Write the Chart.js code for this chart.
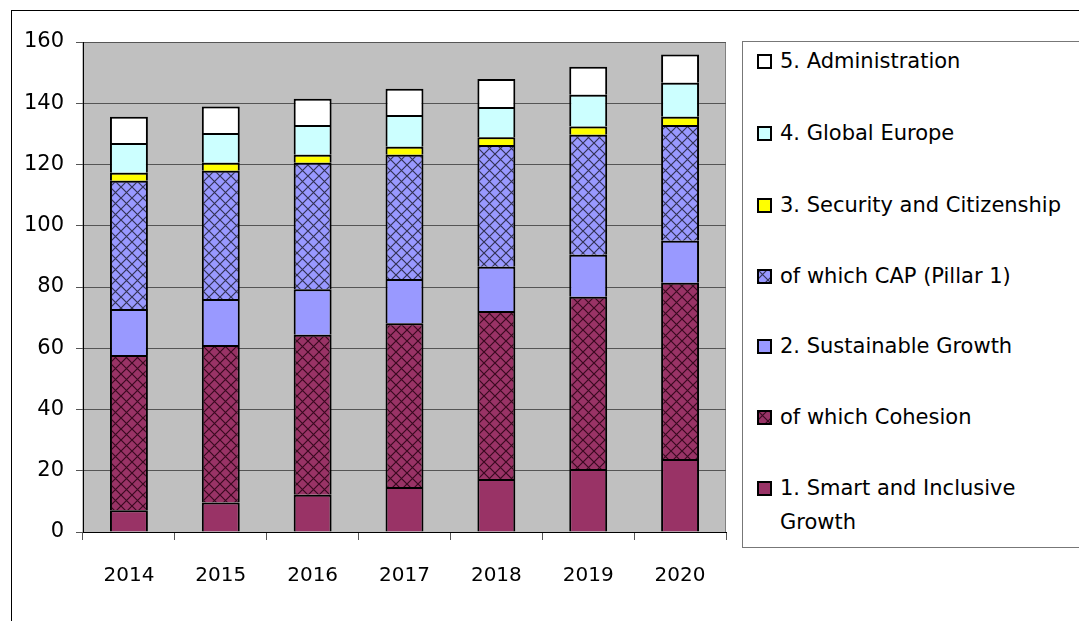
<!DOCTYPE html>
<html>
<head>
<meta charset="utf-8">
<script src="https://cdn.jsdelivr.net/npm/chart.js@4"></script>
<style>
  body { margin: 0; background: #fff; font-family: "DejaVu Sans", sans-serif; }
  #wrap { position: relative; width: 1079px; height: 621px; overflow: hidden; }
  #frame { position: absolute; left: 11px; top: 10px; width: 1200px; height: 800px; border: 1px solid #000; }
  #chartBox { position: absolute; left: 0; top: 0; width: 1079px; height: 621px; }
  #legend { position: absolute; left: 742px; top: 41px; width: 400px; height: 505px; border: 1px solid #777; background: #fff; }
  .item { position: absolute; left: 0; font-size: 21px; color: #000; line-height: 34px; }
  .item canvas { position: absolute; left: 14px; top: 10px; }
  .item span { position: absolute; left: 37px; top: 0; white-space: nowrap; }
</style>
</head>
<body>
<div id="wrap">
  <div id="frame"></div>
  <div id="chartBox"><canvas id="budget"></canvas></div>
  <div id="legend"></div>
</div>
<script>
const years = ['2014', '2015', '2016', '2017', '2018', '2019', '2020'];
const smart = [7.1, 9.6, 12.2, 14.7, 17.3, 20.6, 23.8];
const cohesion = [50.7, 51.5, 52.2, 53.5, 54.9, 56.2, 57.6];
const sustainable = [15.0, 15.0, 14.9, 14.4, 14.4, 13.7, 13.7];
const cap = [41.9, 41.9, 41.3, 40.6, 39.8, 39.2, 37.8];
const security = [2.6, 2.6, 2.6, 2.6, 2.5, 2.7, 2.7];
const globalEurope = [9.7, 9.7, 9.7, 10.4, 9.9, 10.4, 11.1];
const admin = [8.6, 8.6, 8.6, 8.5, 9.1, 9.1, 9.2];
const yTicks = [0, 20, 40, 60, 80, 100, 120, 140, 160];

// crosshatch fill like the spreadsheet pattern
function hatch(base, ink) {
  const c = document.createElement('canvas');
  c.width = 11; c.height = 11;
  const g = c.getContext('2d');
  g.fillStyle = base;
  g.fillRect(0, 0, 11, 11);
  g.strokeStyle = ink;
  g.lineWidth = 1.2;
  g.beginPath();
  g.moveTo(0, 0); g.lineTo(11, 11);
  g.moveTo(11, 0); g.lineTo(0, 11);
  g.stroke();
  return g.createPattern(c, 'repeat');
}

const series = [
  { label: '1. Smart and Inclusive Growth', data: smart, color: '#993366' },
  { label: 'of which Cohesion', data: cohesion, color: '#993366', ink: '#3a0a20' },
  { label: '2. Sustainable Growth', data: sustainable, color: '#9999FF' },
  { label: 'of which CAP (Pillar 1)', data: cap, color: '#9999FF', ink: '#333355' },
  { label: '3. Security and Citizenship', data: security, color: '#FFFF00' },
  { label: '4. Global Europe', data: globalEurope, color: '#CCFFFF' },
  { label: '5. Administration', data: admin, color: '#FFFFFF' }
];

const plotBg = {
  id: 'plotBg',
  beforeDraw(chart) {
    const a = chart.chartArea, ctx = chart.ctx;
    ctx.save();
    ctx.fillStyle = '#C0C0C0';
    ctx.fillRect(a.left, a.top, a.right - a.left, a.bottom - a.top);
    ctx.strokeStyle = '#808080';
    ctx.lineWidth = 1;
    ctx.strokeRect(a.left, a.top + 0.5, a.right - a.left - 0.5, a.bottom - a.top);
    ctx.restore();
  }
};

const ctx = document.getElementById('budget').getContext('2d');
new Chart(ctx, {
  type: 'bar',
  data: {
    labels: years,
    datasets: series.map(s => ({
      label: s.label,
      data: s.data,
      backgroundColor: s.ink ? hatch(s.color, s.ink) : s.color,
      borderColor: '#000',
      borderWidth: 2,
      borderSkipped: 'bottom',
      categoryPercentage: 1,
      barPercentage: 0.413
    }))
  },
  options: {
    responsive: true,
    maintainAspectRatio: false,
    animation: false,
    layout: { padding: { left: 0, top: 42, right: 353, bottom: 0 } },
    plugins: { legend: { display: false }, tooltip: { enabled: false } },
    scales: {
      x: {
        stacked: true,
        afterFit: s => { s.height = 89; },
        grid: { drawOnChartArea: false, tickLength: 8, color: '#555' },
        border: { color: '#000', width: 1 },
        ticks: { color: '#000', padding: 24, font: { family: 'DejaVu Sans', size: 20 } }
      },
      y: {
        stacked: true,
        min: 0,
        max: 160,
        afterFit: s => { s.width = 83; },
        afterBuildTicks: s => { s.ticks = yTicks.map(v => ({ value: v })); },
        grid: { color: '#555', tickLength: 7 },
        border: { color: '#000', width: 1 },
        ticks: { color: '#000', padding: 12, font: { family: 'DejaVu Sans', size: 21 } }
      }
    }
  },
  plugins: [plotBg]
});

// legend, top to bottom in reverse stack order
const legend = document.getElementById('legend');
const tops = [2, 74, 146, 217, 287, 358, 429];
series.slice().reverse().forEach((s, i) => {
  const item = document.createElement('div');
  item.className = 'item';
  item.style.top = (tops[i]) + 'px';
  const sw = document.createElement('canvas');
  sw.width = 15; sw.height = 15;
  const g = sw.getContext('2d');
  g.fillStyle = s.ink ? hatch(s.color, s.ink) : s.color;
  g.fillRect(0, 0, 15, 15);
  g.strokeStyle = '#000';
  g.lineWidth = 2;
  g.strokeRect(1, 1, 13, 13);
  item.appendChild(sw);
  const t = document.createElement('span');
  t.innerHTML = s.label === '1. Smart and Inclusive Growth' ? '1. Smart and Inclusive<br>Growth' : s.label;
  item.appendChild(t);
  legend.appendChild(item);
});
</script>
</body>
</html>
